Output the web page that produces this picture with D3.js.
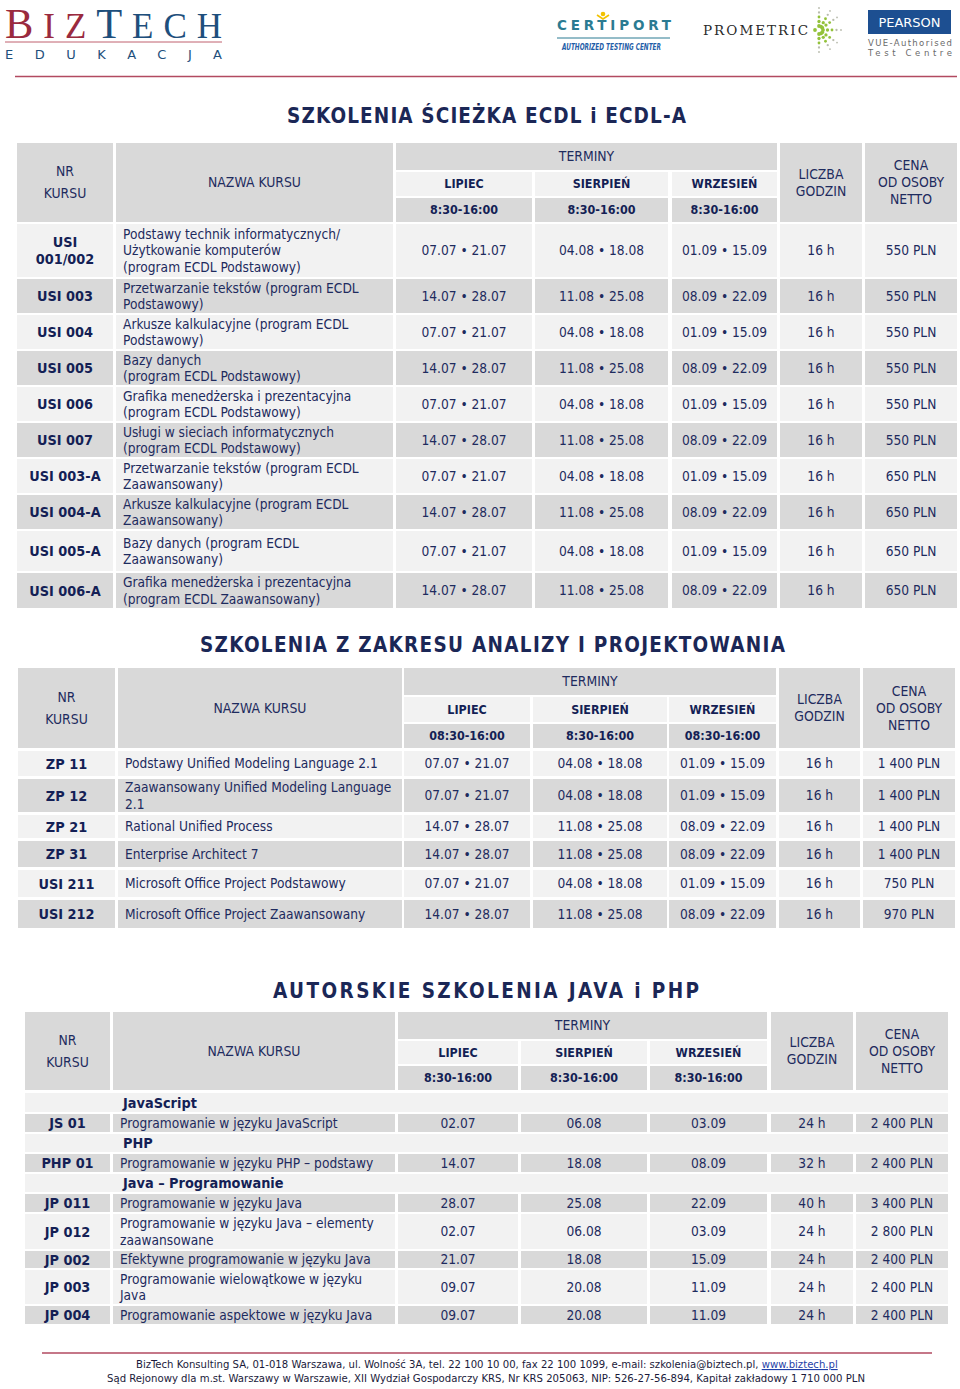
<!DOCTYPE html>
<html><head><meta charset="utf-8">
<script src="https://cdn.jsdelivr.net/npm/d3@7"></script>
<style>html,body{margin:0;padding:0;background:#fff;} svg{display:block;}</style>
</head><body>
<svg id="chart" width="960" height="1389"></svg>
<script>
// ================= DATA =================
const monthLabels = ["LIPIEC", "SIERPIEŃ", "WRZESIEŃ"];
const termHeader = "TERMINY";
const nrHeader = ["NR", "KURSU"];
const nameHeader = ["NAZWA KURSU"];
const hoursHeader = ["LICZBA", "GODZIN"];
const priceHeader = ["CENA", "OD OSOBY", "NETTO"];

// --- table 1 ---
const title1 = "SZKOLENIA ŚCIEŻKA ECDL i ECDL-A";
const t1Times = ["8:30-16:00", "8:30-16:00", "8:30-16:00"];
const t1Codes = ["USI\n001/002", "USI 003", "USI 004", "USI 005", "USI 006", "USI 007", "USI 003-A", "USI 004-A", "USI 005-A", "USI 006-A"];
const t1Names = [
  "Podstawy technik informatycznych/\nUżytkowanie komputerów\n(program ECDL Podstawowy)",
  "Przetwarzanie tekstów (program ECDL\nPodstawowy)",
  "Arkusze kalkulacyjne (program ECDL\nPodstawowy)",
  "Bazy danych\n(program ECDL Podstawowy)",
  "Grafika menedżerska i prezentacyjna\n(program ECDL Podstawowy)",
  "Usługi w sieciach informatycznych\n(program ECDL Podstawowy)",
  "Przetwarzanie tekstów (program ECDL\nZaawansowany)",
  "Arkusze kalkulacyjne (program ECDL\nZaawansowany)",
  "Bazy danych (program ECDL\nZaawansowany)",
  "Grafika menedżerska i prezentacyjna\n(program ECDL Zaawansowany)"];
const t1Lipiec = ["07.07 • 21.07", "14.07 • 28.07", "07.07 • 21.07", "14.07 • 28.07", "07.07 • 21.07", "14.07 • 28.07", "07.07 • 21.07", "14.07 • 28.07", "07.07 • 21.07", "14.07 • 28.07"];
const t1Sierpien = ["04.08 • 18.08", "11.08 • 25.08", "04.08 • 18.08", "11.08 • 25.08", "04.08 • 18.08", "11.08 • 25.08", "04.08 • 18.08", "11.08 • 25.08", "04.08 • 18.08", "11.08 • 25.08"];
const t1Wrzesien = ["01.09 • 15.09", "08.09 • 22.09", "01.09 • 15.09", "08.09 • 22.09", "01.09 • 15.09", "08.09 • 22.09", "01.09 • 15.09", "08.09 • 22.09", "01.09 • 15.09", "08.09 • 22.09"];
const t1Hours = ["16 h", "16 h", "16 h", "16 h", "16 h", "16 h", "16 h", "16 h", "16 h", "16 h"];
const t1Prices = ["550 PLN", "550 PLN", "550 PLN", "550 PLN", "550 PLN", "550 PLN", "650 PLN", "650 PLN", "650 PLN", "650 PLN"];

// --- table 2 ---
const title2 = "SZKOLENIA Z ZAKRESU ANALIZY I PROJEKTOWANIA";
const t2Times = ["08:30-16:00", "8:30-16:00", "08:30-16:00"];
const t2Codes = ["ZP 11", "ZP 12", "ZP 21", "ZP 31", "USI 211", "USI 212"];
const t2Names = ["Podstawy Unified Modeling Language 2.1", "Zaawansowany Unified Modeling Language\n2.1", "Rational Unified Process", "Enterprise Architect 7", "Microsoft Office Project Podstawowy", "Microsoft Office Project Zaawansowany"];
const t2Lipiec = ["07.07 • 21.07", "07.07 • 21.07", "14.07 • 28.07", "14.07 • 28.07", "07.07 • 21.07", "14.07 • 28.07"];
const t2Sierpien = ["04.08 • 18.08", "04.08 • 18.08", "11.08 • 25.08", "11.08 • 25.08", "04.08 • 18.08", "11.08 • 25.08"];
const t2Wrzesien = ["01.09 • 15.09", "01.09 • 15.09", "08.09 • 22.09", "08.09 • 22.09", "01.09 • 15.09", "08.09 • 22.09"];
const t2Hours = ["16 h", "16 h", "16 h", "16 h", "16 h", "16 h"];
const t2Prices = ["1 400 PLN", "1 400 PLN", "1 400 PLN", "1 400 PLN", "750 PLN", "970 PLN"];

// --- table 3 ---
const title3 = "AUTORSKIE SZKOLENIA JAVA i PHP";
const t3Times = ["8:30-16:00", "8:30-16:00", "8:30-16:00"];
const t3Sections = ["JavaScript", "PHP", "Java – Programowanie"];
const t3SectionOf = [0, 1, 2, 2, 2, 2, 2];
const t3Codes = ["JS 01", "PHP 01", "JP 011", "JP 012", "JP 002", "JP 003", "JP 004"];
const t3Names = ["Programowanie w języku JavaScript", "Programowanie w języku PHP – podstawy", "Programowanie w języku Java", "Programowanie w języku Java –  elementy\nzaawansowane", "Efektywne programowanie w języku Java", "Programowanie wielowątkowe w języku\nJava", "Programowanie aspektowe w języku Java"];
const t3Lipiec = ["02.07", "14.07", "28.07", "02.07", "21.07", "09.07", "09.07"];
const t3Sierpien = ["06.08", "18.08", "25.08", "06.08", "18.08", "20.08", "20.08"];
const t3Wrzesien = ["03.09", "08.09", "22.09", "03.09", "15.09", "11.09", "11.09"];
const t3Hours = ["24 h", "32 h", "40 h", "24 h", "24 h", "24 h", "24 h"];
const t3Prices = ["2 400 PLN", "2 400 PLN", "3 400 PLN", "2 800 PLN", "2 400 PLN", "2 400 PLN", "2 400 PLN"];

// --- footer ---
const footerLine1 = "BizTech Konsulting SA, 01-018 Warszawa, ul. Wolność 3A, tel. 22 100 10 00, fax 22 100 1099, e-mail: szkolenia@biztech.pl, ";
const footerLink = "www.biztech.pl";
const footerLine2 = "Sąd Rejonowy dla m.st. Warszawy w Warszawie, XII Wydział Gospodarczy KRS, Nr KRS 205063, NIP: 526-27-56-894, Kapitał zakładowy 1 710 000 PLN";

// ================= LAYOUT / STYLE =================
const GRAY = "#d9d9d9", LIGHT = "#f2f2f2", NAVY = "#1e2b5e", NAVY_B = "#141f55", TITLE = "#1b2756", RED = "#b24a60";
const FONT = "'DejaVu Sans Condensed','DejaVu Sans',Verdana,sans-serif";

const layout1 = {
  title: {x0: 287, x1: 686, base: 123},
  cols: [[17,113],[116,393],[396,532],[535,668],[672,777],[780,862],[865,957]],
  head: [[143,170],[172,196],[198,222]],
  bodyTop: 224, gap: 2,
  heights: [53,34,34,34,34,34,34,34,40,35],
  shade: ["L","G","L","G","L","G","L","G","L","G"]
};
const layout2 = {
  title: {x0: 200, x1: 785, base: 652},
  cols: [[18,115],[118,402],[404,530],[533,667],[669,776],[779,860],[863,955]],
  head: [[668,695],[697,722],[724,748]],
  bodyTop: 751, gap: 3,
  heights: [25,33,23,26,27,28],
  shade: ["L","G","L","G","L","G"]
};
const layout3 = {
  title: {x0: 273, x1: 699, base: 998},
  cols: [[25,110],[113,395],[398,518],[521,647],[650,767],[771,853],[856,948]],
  head: [[1012,1039],[1041,1064],[1066,1090]],
  bodyTop: 1093, gap: 2,
  heights: [19,18,18,18,18,18,35,17,34,18],
  shade: ["L","G","L","G","L","G","L","G","L","G"]
};

// ================= DRAW =================
const svg = d3.select("#chart");
svg.append("rect").attr("width", 960).attr("height", 1389).attr("fill", "#fff");

const meas = svg.append("text").attr("x", -3000).attr("y", -3000).style("font-family", FONT);
function textW(str, size, weight) {
  meas.style("font-size", size + "px").style("font-weight", weight).text(str);
  return meas.node().getComputedTextLength();
}
const fsBody = 20 * 253 / textW("Podstawy Unified Modeling Language 2.1", 20, "normal");
const fsCode = 20 * 71.5 / textW("USI 003-A", 20, "bold");
const fsHead = 20 * 93 / textW("NAZWA KURSU", 20, "normal");
const fsHeadB = 20 * 68 / textW("8:30-16:00", 20, "bold");

function lines(g, str, x, yc, lh, anchor, size, weight, fill) {
  const parts = Array.isArray(str) ? str : String(str).split("\n");
  const n = parts.length;
  const t = g.append("text").attr("text-anchor", anchor)
    .style("font-family", FONT).style("font-size", size + "px")
    .style("font-weight", weight).attr("fill", fill);
  parts.forEach((p, i) => t.append("tspan").attr("x", x)
    .attr("y", yc + (i - (n - 1) / 2) * lh).attr("dy", "0.36em").text(p));
  return t;
}

function drawTitle(str, T) {
  svg.append("text").attr("x", T.x0).attr("y", T.base)
    .attr("textLength", T.x1 - T.x0).attr("lengthAdjust", "spacing")
    .style("font-family", FONT).style("font-size", "20.5px").style("font-weight", "bold")
    .attr("fill", TITLE).text(str);
}

function drawTable(L, times, rows) {
  const g = svg.append("g");
  const idx = d3.range(7);
  const x0 = d3.scaleOrdinal().domain(idx).range(L.cols.map(c => c[0]));
  const x1 = d3.scaleOrdinal().domain(idx).range(L.cols.map(c => c[1]));
  const mid = c => (x0(c) + x1(c)) / 2;
  const rect = (a, b, c, d, f) => g.append("rect").attr("x", a).attr("y", c)
    .attr("width", b - a).attr("height", d - c).attr("fill", f);
  const [r0, r1, r2] = L.head;
  const hTop = r0[0], hBot = r2[1], hMid = (hTop + hBot) / 2;

  [[0, nrHeader, 22], [1, nameHeader, 17], [5, hoursHeader, 17], [6, priceHeader, 17]].forEach(([c, lab, lh]) => {
    rect(x0(c), x1(c), hTop, hBot, GRAY);
    lines(g, lab, mid(c), hMid, lh, "middle", fsHead, "normal", NAVY);
  });
  rect(x0(2), x1(4), r0[0], r0[1], GRAY);
  lines(g, [termHeader], (x0(2) + x1(4)) / 2, (r0[0] + r0[1]) / 2, 17, "middle", fsHead, "normal", NAVY);
  [2, 3, 4].forEach((c, k) => {
    rect(x0(c), x1(c), r1[0], r1[1], LIGHT);
    lines(g, [monthLabels[k]], mid(c), (r1[0] + r1[1]) / 2, 17, "middle", fsHeadB, "bold", NAVY_B);
    rect(x0(c), x1(c), r2[0], r2[1], GRAY);
    lines(g, [times[k]], mid(c), (r2[0] + r2[1]) / 2, 17, "middle", fsHeadB, "bold", NAVY_B);
  });

  let y = L.bodyTop;
  const tops = L.heights.map(h => { const t = y; y += h + L.gap; return t; });
  const yTop = d3.scaleOrdinal().domain(d3.range(rows.length)).range(tops);
  rows.forEach((row, i) => {
    const top = yTop(i), bot = top + L.heights[i], yc = (top + bot) / 2;
    const fill = L.shade[i] === "G" ? GRAY : LIGHT;
    if (row.type === "section") {
      rect(x0(0), x1(6), top, bot, fill);
      lines(g, [row.label], x0(1) + 10, yc, 17, "start", fsCode, "bold", NAVY_B);
      return;
    }
    row.cells.forEach((v, c) => {
      rect(x0(c), x1(c), top, bot, fill);
      if (c === 0) lines(g, v, mid(c), yc, 17, "middle", fsCode, "bold", NAVY_B);
      else if (c === 1) lines(g, v, x0(c) + 7, yc, 16.8, "start", fsBody, "normal", NAVY);
      else lines(g, v, mid(c), yc, 17, "middle", fsBody, "normal", NAVY);
    });
  });
}

function courseRows(codes, names, a, b, c, h, p) {
  return codes.map((code, i) => ({type: "course", cells: [code, names[i], a[i], b[i], c[i], h[i], p[i]]}));
}

// ---------- header logos ----------
(function logos() {
  const g = svg.append("g");
  const lt = g.append("text").attr("x", 5).attr("y", 38)
    .attr("textLength", 217).attr("lengthAdjust", "spacing")
    .style("font-family", "'Liberation Serif','DejaVu Serif',serif");
  lt.append("tspan").attr("fill", "#9a2a3e").style("font-size", "42.5px").text("B");
  lt.append("tspan").attr("fill", "#9a2a3e").style("font-size", "35px").text("IZ");
  lt.append("tspan").attr("fill", "#1e4f7c").style("font-size", "42.5px").text("T");
  lt.append("tspan").attr("fill", "#1e4f7c").style("font-size", "35px").text("ECH");
  g.append("line").attr("x1", 5).attr("x2", 222).attr("y1", 42).attr("y2", 42).attr("stroke", "#c0606f").attr("stroke-width", 1);
  g.append("text").attr("x", 5).attr("y", 59).attr("textLength", 217).attr("lengthAdjust", "spacing")
    .style("font-family", "'DejaVu Sans',sans-serif").style("font-size", "13px").attr("fill", "#1e4f7c").text("EDUKACJA");

  // Certiport
  g.append("text").attr("x", 557).attr("y", 30).attr("textLength", 114).attr("lengthAdjust", "spacing")
    .style("font-family", "'DejaVu Sans',sans-serif").style("font-size", "13.5px").style("font-weight", "bold")
    .attr("fill", "#2b7b92").text("CERTIPORT");
  g.append("circle").attr("cx", 603).attr("cy", 14).attr("r", 2.3).attr("fill", "#f2c200");
  g.append("path").attr("d", "M597,15 L603,19 L609,15").attr("fill", "none").attr("stroke", "#f2c200").attr("stroke-width", 1.6);
  g.append("line").attr("x1", 557).attr("x2", 670).attr("y1", 38).attr("y2", 38).attr("stroke", "#2b7b92").attr("stroke-width", 1);
  g.append("text").attr("x", 562).attr("y", 50).attr("textLength", 99).attr("lengthAdjust", "spacingAndGlyphs")
    .style("font-family", "'DejaVu Sans',sans-serif").style("font-size", "8px").style("font-weight", "bold").style("font-style", "italic")
    .attr("fill", "#1f5ea8").text("AUTHORIZED TESTING CENTER");

  // Prometric
  g.append("text").attr("x", 703).attr("y", 35).attr("textLength", 105).attr("lengthAdjust", "spacing")
    .style("font-family", "'DejaVu Serif',serif").style("font-size", "13.5px")
    .attr("fill", "#2a2a2a").text("PROMETRIC");
  const cx = 819, cy = 30;
  const rays = [-90, -60, -35, 0, 35, 60, 90, 180];
  rays.forEach(a => {
    const rad = a * Math.PI / 180;
    const maxD = (a === -90 || a === 90) ? 24 : (a === 180 ? 6 : 22);
    for (let d = 4; d <= maxD; d += 4.5) {
      const k = d / 24;
      g.append("circle").attr("cx", cx + Math.cos(rad) * d).attr("cy", cy + Math.sin(rad) * d)
        .attr("r", 2.1 - 1.3 * k).attr("fill", k < 0.6 ? "#93c23a" : "#b9bcae");
    }
  });

  // Pearson
  g.append("rect").attr("x", 868).attr("y", 10).attr("width", 83).attr("height", 24).attr("fill", "#1d4f91");
  g.append("text").attr("x", 909.5).attr("y", 27).attr("text-anchor", "middle")
    .style("font-family", "'DejaVu Sans',sans-serif").style("font-size", "13px").attr("fill", "#fff").text("PEARSON");
  g.append("text").attr("x", 868).attr("y", 46).attr("textLength", 84).attr("lengthAdjust", "spacing")
    .style("font-family", "'DejaVu Sans',sans-serif").style("font-size", "8.5px").attr("fill", "#6a6a6a").text("VUE-Authorised");
  g.append("text").attr("x", 868).attr("y", 56).attr("textLength", 84).attr("lengthAdjust", "spacing")
    .style("font-family", "'DejaVu Sans',sans-serif").style("font-size", "8.5px").attr("fill", "#6a6a6a").text("Test Centre");

  g.append("line").attr("x1", 15).attr("x2", 957).attr("y1", 76.5).attr("y2", 76.5).attr("stroke", RED).attr("stroke-width", 1.5);
})();

// ---------- tables ----------
drawTitle(title1, layout1.title);
drawTable(layout1, t1Times, courseRows(t1Codes, t1Names, t1Lipiec, t1Sierpien, t1Wrzesien, t1Hours, t1Prices));

drawTitle(title2, layout2.title);
drawTable(layout2, t2Times, courseRows(t2Codes, t2Names, t2Lipiec, t2Sierpien, t2Wrzesien, t2Hours, t2Prices));

drawTitle(title3, layout3.title);
const rows3 = [];
let lastSec = -1;
courseRows(t3Codes, t3Names, t3Lipiec, t3Sierpien, t3Wrzesien, t3Hours, t3Prices).forEach((r, i) => {
  if (t3SectionOf[i] !== lastSec) { lastSec = t3SectionOf[i]; rows3.push({type: "section", label: t3Sections[lastSec]}); }
  rows3.push(r);
});
drawTable(layout3, t3Times, rows3);

// ---------- footer ----------
svg.append("line").attr("x1", 42).attr("x2", 932).attr("y1", 1353).attr("y2", 1353).attr("stroke", RED).attr("stroke-width", 1.5);
const f1 = svg.append("text").attr("x", 136).attr("y", 1368).style("font-family", FONT).style("font-size", "11px").attr("fill", "#1a1a3a");
f1.append("tspan").text(footerLine1);
f1.append("tspan").attr("fill", "#1f3fa8").style("text-decoration", "underline").text(footerLink);
f1.style("font-size", (11 * 702 / f1.node().getComputedTextLength()) + "px");
const f2 = svg.append("text").attr("x", 107).attr("y", 1382).style("font-family", FONT).style("font-size", "11px").attr("fill", "#1a1a3a").text(footerLine2);
f2.style("font-size", (11 * 759 / f2.node().getComputedTextLength()) + "px");
meas.remove();
</script>
</body></html>
